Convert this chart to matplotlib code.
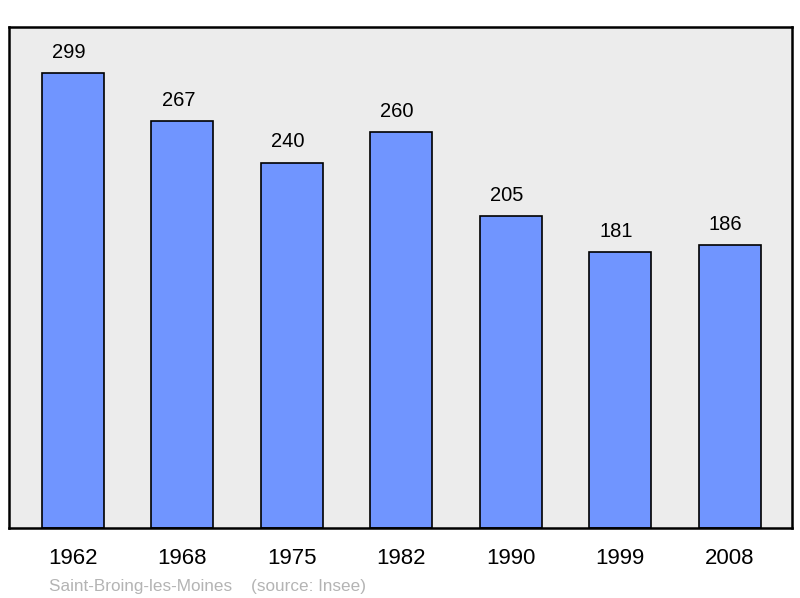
import matplotlib
matplotlib.use("Agg")
import matplotlib.pyplot as plt

years = ["1962", "1968", "1975", "1982", "1990", "1999", "2008"]
population = [299, 267, 240, 260, 205, 181, 186]
caption = "Saint-Broing-les-Moines    (source: Insee)"

plt.rcParams['font.family'] = ['Liberation Sans', 'DejaVu Sans']
fig = plt.figure(figsize=(8, 5.98), dpi=100)
ax = fig.add_axes([9/800, 70/598, 783/800, 501/598])
ax.set_facecolor('#ececec')
x = list(range(len(years)))
bars = ax.bar(x, population, width=0.567, color='#7095ff', edgecolor='black', linewidth=1.2, zorder=2)
for xi, v in zip(x, population):
    ax.annotate(str(v), (xi, v), xytext=(-3, 8), textcoords='offset points',
                ha='center', va='bottom', fontsize=14.5)
ax.set_xlim(-0.585, 6.57)
ax.set_ylim(0, 329)
ax.set_yticks([])
ax.set_xticks(x)
ax.set_xticklabels(years, fontsize=16)
ax.tick_params(axis='x', length=0, pad=14.5)
for s in ax.spines.values():
    s.set_linewidth(1.8)
fig.text(49/800, 1 - 586/598, caption, fontsize=12.3, color='#b4b4b4', va='center', ha='left')
fig.savefig('out.png', dpi=100)
